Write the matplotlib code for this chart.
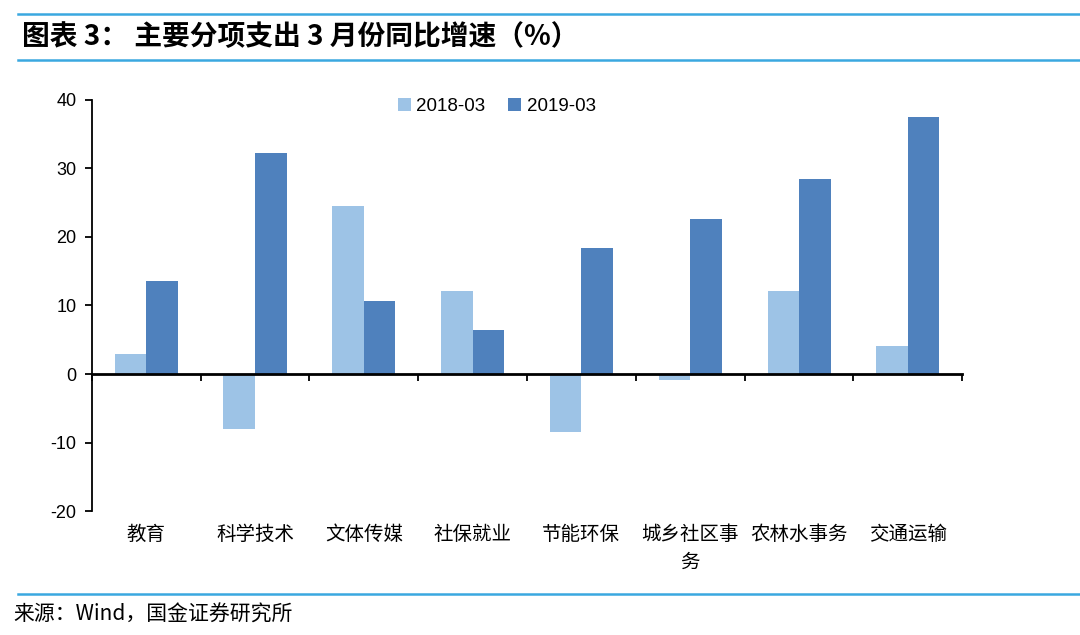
import numpy as np
import matplotlib.pyplot as plt
from matplotlib.lines import Line2D

# 数据
categorias = ['教育', '科学技术', '文体传媒', '社保就业', '节能环保', '城乡社区事\n务', '农林水事务', '交通运输']
serie_2018 = [2.9, -8.0, 24.5, 12.1, -8.5, -0.8, 12.1, 4.1]
serie_2019 = [13.6, 32.3, 10.6, 6.4, 18.4, 22.6, 28.5, 37.5]
etiquetas = ['2018-03', '2019-03']
yticks = [-20, -10, 0, 10, 20, 30, 40]

plt.rcParams['font.family'] = ['Liberation Sans', 'Noto Sans CJK SC', 'DejaVu Sans']

fig = plt.figure(figsize=(10.8, 6.35), dpi=100)
ax = fig.add_axes([0.085, 0.195, 0.806, 0.648])

x = np.arange(len(categorias))
ancho = 0.29
ax.bar(x - ancho / 2, serie_2018, ancho, color='#9DC3E6', label=etiquetas[0])
ax.bar(x + ancho / 2, serie_2019, ancho, color='#4F81BD', label=etiquetas[1])

ax.set_xlim(-0.5, len(categorias) - 0.5)
ax.set_ylim(-20, 40)
ax.set_yticks(yticks)
ax.set_yticklabels([str(v) for v in yticks], fontsize=13)

ax.spines['top'].set_visible(False)
ax.spines['right'].set_visible(False)
ax.spines['bottom'].set_position(('data', 0))
ax.spines['bottom'].set_linewidth(2)
ax.spines['left'].set_linewidth(1.3)
ax.tick_params(axis='y', direction='out', length=5, width=1.3, pad=6)

# ticks en los límites de categoría
ax.set_xticks(np.arange(len(categorias) + 1) - 0.5)
ax.set_xticklabels([])
ax.tick_params(axis='x', direction='out', length=5, width=1.3)
for i, cat in enumerate(categorias):
    ax.text(i, -21.8, cat, ha='center', va='top', fontsize=14,
            family=['Noto Sans CJK SC', 'DejaVu Sans'], linespacing=1.45)

ax.legend(loc='upper center', bbox_to_anchor=(0.465, 1.045), ncol=2, frameon=False,
          fontsize=13.5, handlelength=0.7, handleheight=0.7, handletextpad=0.3,
          columnspacing=1.2)

# título y líneas
azul = '#3AA8E0'
fig.add_artist(Line2D([0.017, 1.0], [1 - 14 / 635, 1 - 14 / 635], color=azul, lw=1.8))
fig.add_artist(Line2D([0.017, 1.0], [1 - 60 / 635, 1 - 60 / 635], color=azul, lw=1.8))
fig.add_artist(Line2D([0.017, 1.0], [1 - 594 / 635, 1 - 594 / 635], color=azul, lw=1.8))
fig.text(0.02, 1 - 37 / 635, '图表 3： 主要分项支出 3 月份同比增速（%）', fontsize=20, fontweight='bold',
         style='italic', va='center', ha='left', family=['Noto Sans CJK SC', 'DejaVu Sans'])
fig.text(0.012, 1 - 615 / 635, '来源：Wind，国金证券研究所', fontsize=15, va='center', ha='left',
         family=['Noto Sans CJK SC', 'DejaVu Sans'])

fig.savefig('out.png', dpi=100)
